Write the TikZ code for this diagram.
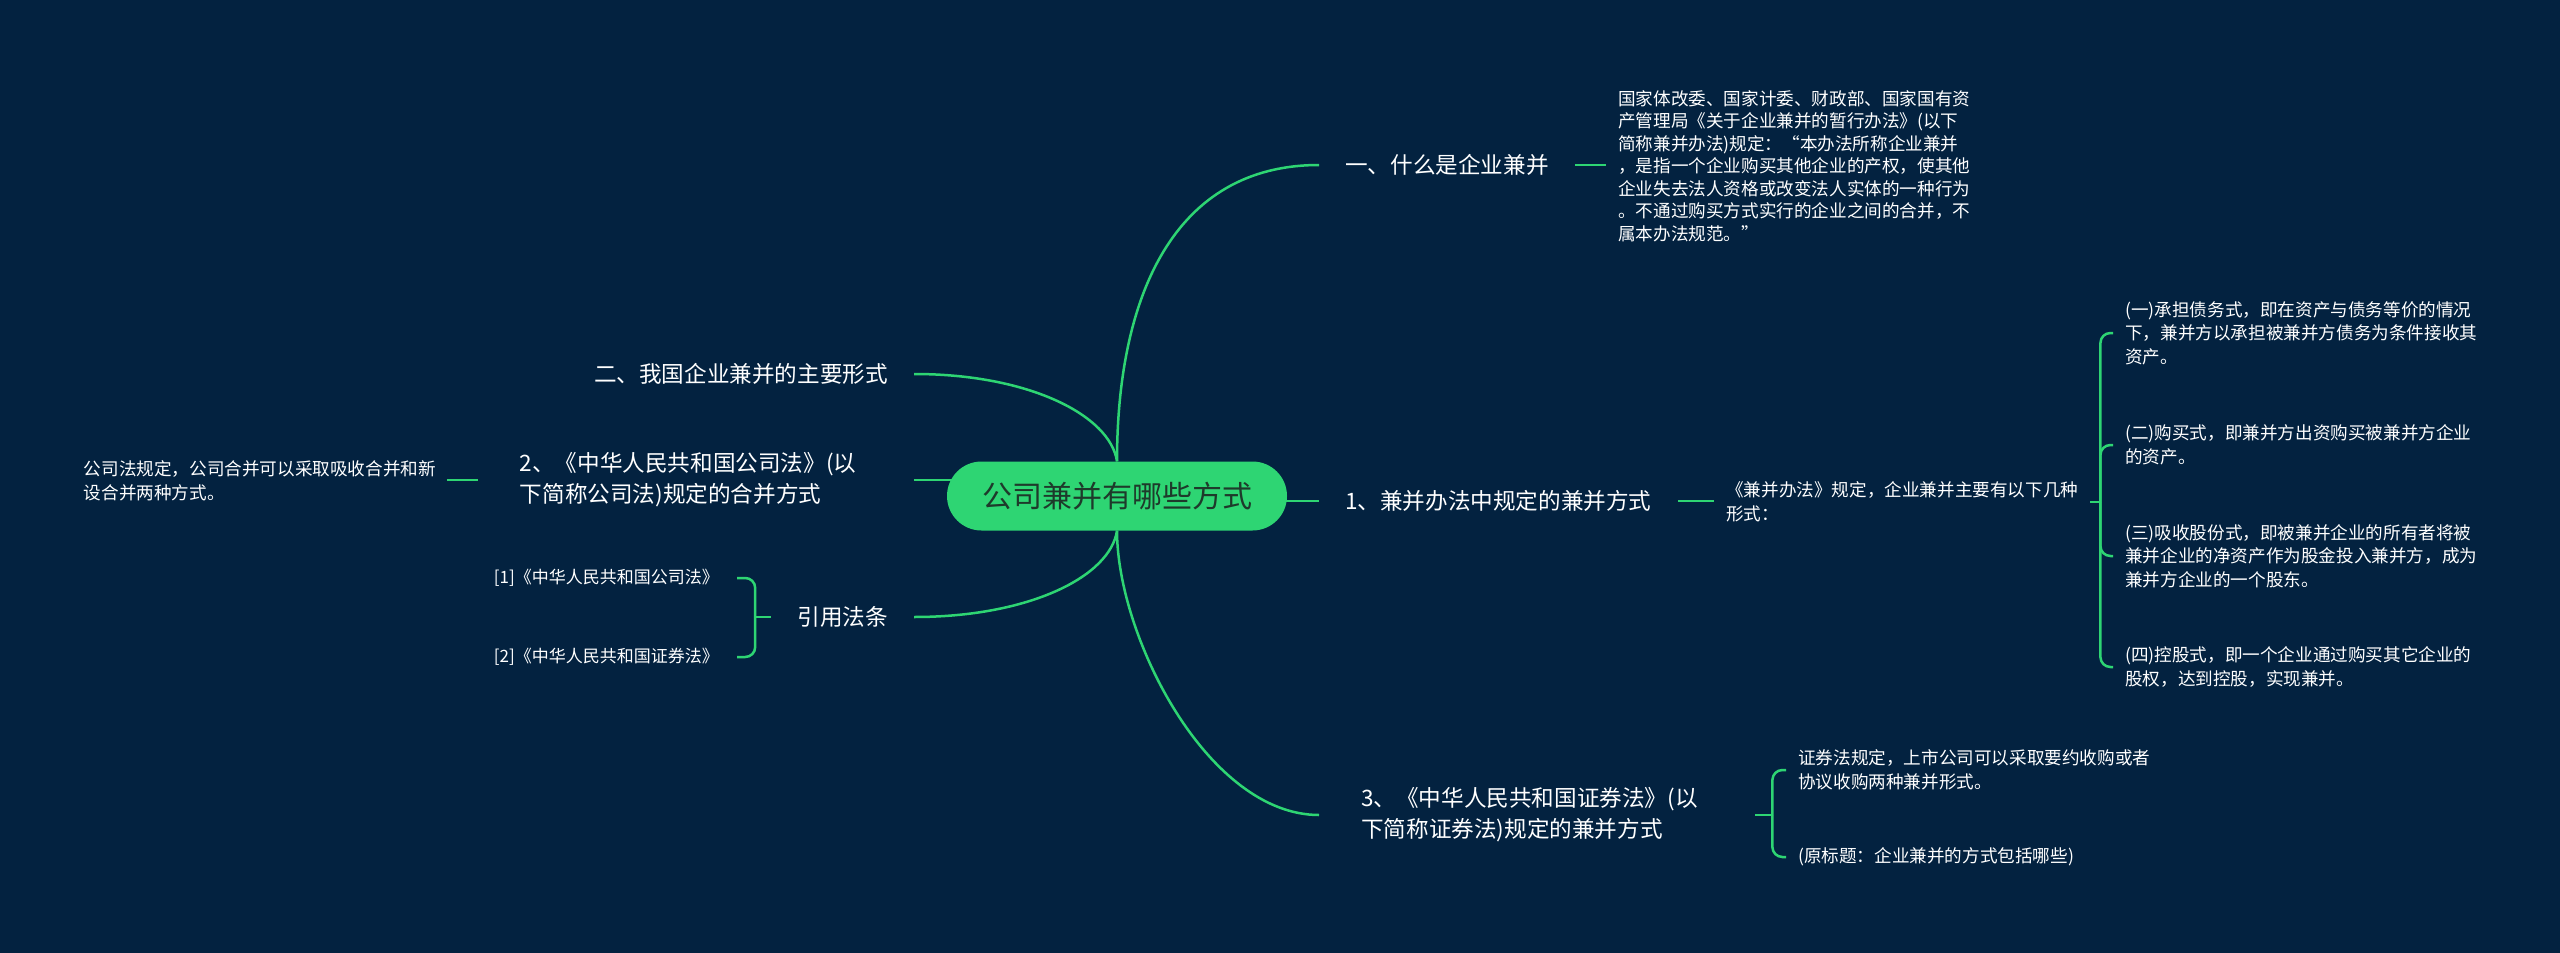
\documentclass[tikz,border=0pt]{standalone}
\usepackage{fontspec}
\setmainfont{Noto Sans CJK SC}
\usetikzlibrary{calc}
\definecolor{bgnavy}{HTML}{032240}
\definecolor{mmgreen}{HTML}{2ED573}
\definecolor{roottext}{HTML}{1E3A2B}
\pgfdeclarelayer{bg}\pgfdeclarelayer{edges}\pgfsetlayers{bg,edges,main}
\begin{document}
\begin{tikzpicture}[x=1pt,y=-1pt,
  rootnode/.style={fill=mmgreen, text=roottext, rounded corners=34.5pt, minimum width=340pt, minimum height=69pt, font=\fontsize{30}{36}\selectfont, inner sep=0pt},
  topic/.style={text=white, font=\fontsize{22.6}{31}\selectfont, inner xsep=26pt, inner ysep=3pt, align=left},
  topictwo/.style={text=white, font=\fontsize{22.6}{31}\selectfont, inner xsep=42pt, inner ysep=3pt, text width=352pt, align=left},
  leaf/.style={text=white, font=\fontsize{17.6}{23.5}\selectfont, inner xsep=12pt, inner ysep=2pt, align=left},
  leafr/.style={leaf, inner xsep=18pt, font=\fontsize{17}{23}\selectfont},
  link/.style={draw=mmgreen, line width=2.5pt},
  brk/.style={link, rounded corners=10pt}]

\useasboundingbox (0,0) rectangle (2560,953);
\begin{pgfonlayer}{bg}\fill[bgnavy] (0,0) rectangle (2560,953);\end{pgfonlayer}

\node[rootnode] (root) at (1117,496) {公司兼并有哪些方式};

% right side
\node[topic, anchor=west] (t1) at (1319,165) {一、什么是企业兼并};
\node[leaf, anchor=west, font=\fontsize{17.6}{22.5}\selectfont] (l1) at (1606,166) {国家体改委、国家计委、财政部、国家国有资\\产管理局《关于企业兼并的暂行办法》(以下\\简称兼并办法)规定：“本办法所称企业兼并\\，是指一个企业购买其他企业的产权，使其他\\企业失去法人资格或改变法人实体的一种行为\\。不通过购买方式实行的企业之间的合并，不\\属本办法规范。”};

\node[topic, anchor=west] (t2) at (1319,501) {1、兼并办法中规定的兼并方式};
\node[leaf, anchor=west] (l2) at (1714,502) {《兼并办法》规定，企业兼并主要有以下几种\\形式：};
\coordinate (b2) at ([xshift=10pt]l2.east);
\node[leaf, anchor=west] (c1) at (2113,333) {(一)承担债务式，即在资产与债务等价的情况\\下，兼并方以承担被兼并方债务为条件接收其\\资产。};
\node[leaf, anchor=west] (c2) at (2113,445) {(二)购买式，即兼并方出资购买被兼并方企业\\的资产。};
\node[leaf, anchor=west] (c3) at (2113,556) {(三)吸收股份式，即被兼并企业的所有者将被\\兼并企业的净资产作为股金投入兼并方，成为\\兼并方企业的一个股东。};
\node[leaf, anchor=west] (c4) at (2113,667) {(四)控股式，即一个企业通过购买其它企业的\\股权，达到控股，实现兼并。};

\node[topictwo, anchor=west] (t3) at (1319,815) {3、《中华人民共和国证券法》(以\\下简称证券法)规定的兼并方式};
\coordinate (b3) at ([xshift=17pt]t3.east);
\node[leaf, anchor=west] (d1) at (1786,770) {证券法规定，上市公司可以采取要约收购或者\\协议收购两种兼并形式。};
\node[leaf, anchor=west] (d2) at (1786,857) {(原标题：企业兼并的方式包括哪些)};

% left side
\node[topic, anchor=east] (s1) at (914,374) {二、我国企业兼并的主要形式};
\node[topictwo, anchor=east] (s2) at (914,480) {2、《中华人民共和国公司法》(以\\下简称公司法)规定的合并方式};
\node[leaf, anchor=east, inner xsep=11pt] (s2l) at (447,481) {公司法规定，公司合并可以采取吸收合并和新\\设合并两种方式。};
\node[topic, anchor=east] (s3) at (914,617) {引用法条};
\coordinate (bl) at ([xshift=-16pt]s3.west);
\node[leafr, anchor=east] (r1) at (737,578) {[1]《中华人民共和国公司法》};
\node[leafr, anchor=east] (r2) at (737,657) {[2]《中华人民共和国证券法》};

\begin{pgfonlayer}{edges}
\draw[link] (root.north) .. controls +(0,-165) and +(-145,0) .. (t1.west);
\draw[link] (t2.west -| root.center) -- (t2.west);
\draw[link] (root.south) .. controls +(0,106) and +(-111,0) .. (t3.west);
\draw[link] (root.north) .. controls +(-7,-46) and +(115,0) .. (s1.east);
\draw[link] (s2.east -| root.center) -- (s2.east);
\draw[link] (root.south) .. controls +(-7,46) and +(115,0) .. (s3.east);
\draw[link] (t1.east) -- (l1.west |- t1.east);
\draw[link] (t2.east) -- (l2.west |- t2.east);
\draw[link] (l2.east) -- (b2);
\foreach \c in {c1,c2,c3,c4} \draw[brk] (b2) |- (\c.west);
\draw[link] (t3.east) -- (b3);
\draw[brk] (b3) |- (d1.west);
\draw[brk] (b3) |- (d2.west);
\draw[link] (s2.west) -- (s2l.east |- s2.west);
\draw[link] (s3.west) -- (bl);
\draw[brk] (bl) |- (r1.east);
\draw[brk] (bl) |- (r2.east);
\end{pgfonlayer}
\end{tikzpicture}
\end{document}
